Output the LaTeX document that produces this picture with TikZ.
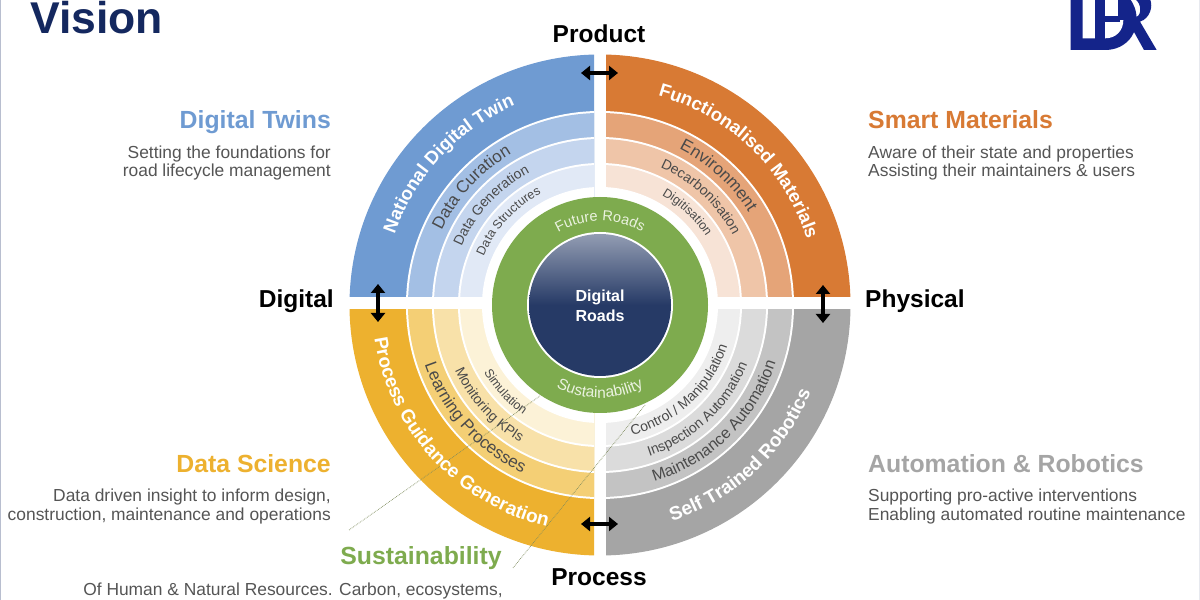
\documentclass[tikz,border=0pt]{standalone}
\usepackage{fontspec}
\setmainfont{Liberation Sans}
\usetikzlibrary{decorations.text,arrows.meta}
\definecolor{bA}{HTML}{6F9BD2}\definecolor{bB}{HTML}{A3BFE4}\definecolor{bC}{HTML}{C4D5EE}\definecolor{bD}{HTML}{E1E9F6}
\definecolor{oA}{HTML}{D87A34}\definecolor{oB}{HTML}{E5A478}\definecolor{oC}{HTML}{EFC5A8}\definecolor{oD}{HTML}{F7E3D6}
\definecolor{yA}{HTML}{EDB12F}\definecolor{yB}{HTML}{F4CF75}\definecolor{yC}{HTML}{F8E1A9}\definecolor{yD}{HTML}{FCF2D7}
\definecolor{gA}{HTML}{A5A5A5}\definecolor{gB}{HTML}{C3C3C3}\definecolor{gC}{HTML}{DBDBDB}\definecolor{gD}{HTML}{EEEEEE}
\definecolor{leaf}{HTML}{7EAB4E}\definecolor{navy}{HTML}{263A66}\definecolor{titleblue}{HTML}{14285F}
\definecolor{bodygrey}{HTML}{555555}\definecolor{ringtext}{HTML}{4A4A4A}\definecolor{logoblue}{HTML}{14248A}
\definecolor{paleleaf}{HTML}{EAF2DF}\definecolor{guidegreen}{HTML}{7F8C5E}
\newcommand{\fsz}[1]{\fontsize{#1}{#1}\selectfont}
\newcommand{\quadring}[6]{%
  \begin{scope}
    \clip #1 rectangle #2;
    \fill[#3] (ctr) circle[radius=250.5pt];
    \fill[white] (ctr) circle[radius=194pt];
    \fill[#4] (ctr) circle[radius=192pt];
    \fill[white] (ctr) circle[radius=168pt];
    \fill[#5] (ctr) circle[radius=166pt];
    \fill[white] (ctr) circle[radius=142pt];
    \fill[#6] (ctr) circle[radius=140pt];
    \fill[white] (ctr) circle[radius=118pt];
  \end{scope}}
\newcommand{\cwtext}[5]{%
  \path[decorate,decoration={text along path,text align=center,
    text={|\fsz{#3}\color{#4}|#5}}]
    (ctr) ++(#2+75:#1 pt) arc[start angle=#2+75,end angle=#2-75,radius=#1 pt];}
\newcommand{\ccwtext}[5]{%
  \path[decorate,decoration={text along path,text align=center,
    text={|\fsz{#3}\color{#4}|#5}}]
    (ctr) ++(#2-75:#1 pt) arc[start angle=#2-75,end angle=#2+75,radius=#1 pt];}
\newcommand{\cwbold}[5]{%
  \path[decorate,decoration={text along path,text align=center,
    text={|\bfseries\fsz{#3}\color{#4}|#5}}]
    (ctr) ++(#2+75:#1 pt) arc[start angle=#2+75,end angle=#2-75,radius=#1 pt];}
\newcommand{\ccwbold}[5]{%
  \path[decorate,decoration={text along path,text align=center,
    text={|\bfseries\fsz{#3}\color{#4}|#5}}]
    (ctr) ++(#2-75:#1 pt) arc[start angle=#2-75,end angle=#2+75,radius=#1 pt];}
\tikzset{
  head/.style={font=\bfseries\fsz{24.8}},
  axislabel/.style={font=\bfseries\fsz{24.5},text=black,inner sep=0pt},
  body/.style={font=\fsz{17.4},text=bodygrey,inner sep=0pt},
  twoway/.style={{Triangle[length=9pt,width=14pt]}-{Triangle[length=9pt,width=14pt]},line width=3.5pt,black},
  guide/.style={densely dotted,line width=.7pt,color=guidegreen},
}
\begin{document}
\begin{tikzpicture}[x=1pt,y=1pt]
\useasboundingbox (0,0) rectangle (1200,600);
\clip (0,0) rectangle (1200,600);
\fill[white] (0,0) rectangle (1200,600);
\draw[color=titleblue!30!white,line width=1.5pt] (0.5,0) -- (0.5,600);
\draw[color=titleblue!10!white,line width=1pt] (1199,0) -- (1199,600);
\coordinate (ctr) at (600,295);
\quadring{(340,303)}{(594,600)}{bA}{bB}{bC}{bD}
\quadring{(606,303)}{(860,600)}{oA}{oB}{oC}{oD}
\quadring{(340,290)}{(594,0)}{yA}{yB}{yC}{yD}
\quadring{(606,290)}{(860,0)}{gA}{gB}{gC}{gD}
\fill[leaf] (ctr) circle[radius=108pt];
\fill[white] (ctr) circle[radius=73pt];
\shade[top color=navy!50!white,bottom color=navy,middle color=navy,shading angle=0] (ctr) circle[radius=71pt];
\coordinate (gaS) at (349,70); \coordinate (gaE) at (540,204);
\coordinate (gbS) at (513,32); \coordinate (gbE) at (645,195);
\draw[guide] (gaS) -- (gaE);
\draw[guide] (gbS) -- (gbE);
\cwbold{217}{137}{18.5}{white}{National Digital Twin}
\cwtext{175}{137.5}{17}{ringtext}{Data Curation}
\cwtext{150}{137.5}{14}{ringtext}{Data Generation}
\cwtext{126}{137.5}{12.5}{ringtext}{Data Structures}
\cwbold{217}{46}{18.5}{white}{Functionalised Materials}
\cwtext{175}{47.5}{17}{ringtext}{Environment}
\cwtext{150}{47}{14}{ringtext}{Decarbonisation}
\cwtext{126}{46.7}{12.5}{ringtext}{Digitisation}
\ccwbold{228}{222.5}{19}{white}{Process Guidance Generation}
\ccwtext{185}{222}{17}{ringtext}{Learning Processes}
\ccwtext{159}{222}{14}{ringtext}{Monitoring KPIs}
\ccwtext{134}{222.5}{12.5}{ringtext}{Simulation}
\ccwbold{228}{-47}{19}{white}{Self Trained Robotics}
\ccwtext{185}{-45.5}{16}{ringtext}{Maintenance Automation}
\ccwtext{159}{-47}{14}{ringtext}{Inspection Automation}
\ccwtext{134}{-47}{14}{ringtext}{Control / Manipulation}
\cwtext{84}{90}{14.5}{paleleaf}{Future Roads}
\ccwtext{93}{270}{15.5}{paleleaf}{Sustainability}
\node[font=\bfseries\fsz{16},text=white,align=center,inner sep=0pt] (core) at (600,294) {Digital\\[4pt]Roads};
\coordinate (tl) at (581,527); \coordinate (tr) at (618,527);
\coordinate (bl) at (581,76); \coordinate (br) at (618,76);
\coordinate (lt) at (378,316); \coordinate (lb) at (378,278);
\coordinate (rt) at (823,315); \coordinate (rb) at (823,277);
\draw[twoway] (tl) -- (tr);
\draw[twoway] (bl) -- (br);
\draw[twoway] (lt) -- (lb);
\draw[twoway] (rt) -- (rb);
\node[axislabel,anchor=base] (product) at (599,557) {Product};
\node[axislabel,anchor=base] (process) at (599,14) {Process};
\node[axislabel,anchor=base east] (digital) at (334,292) {Digital};
\node[axislabel,anchor=base west] (physical) at (865,292) {Physical};
\node[font=\bfseries\fsz{44.5},text=titleblue,anchor=base west,inner sep=0pt] (vision) at (30,566.5) {Vision};
\node[head,text=bA,anchor=base east,inner sep=0pt] (twins) at (331,471) {Digital Twins};
\node[head,text=oA,anchor=base west,inner sep=0pt] (smart) at (868,471) {Smart Materials};
\node[head,text=yA,anchor=base east,inner sep=0pt] (science) at (331,127) {Data Science};
\node[head,text=gA,anchor=base west,inner sep=0pt] (robot) at (868,127) {Automation \& Robotics};
\node[head,text=leaf,anchor=base,inner sep=0pt] (sust) at (421,35) {Sustainability};
\node[body,anchor=base east] (t1) at (331,441) {Setting the foundations for};
\node[body,anchor=base east] (t2) at (331,423) {road lifecycle management};
\node[body,anchor=base west] (s1) at (868,441) {Aware of their state and properties};
\node[body,anchor=base west] (s2) at (868,423) {Assisting their maintainers \& users};
\node[body,anchor=base east] (d1) at (331,98) {Data driven insight to inform design,};
\node[body,anchor=base east] (d2) at (331,79) {construction, maintenance and operations};
\node[body,anchor=base west] (a1) at (868,98) {Supporting pro-active interventions};
\node[body,anchor=base west] (a2) at (868,79) {Enabling automated routine maintenance};
\node[body,anchor=base] (h1) at (293,5) {Of Human \& Natural Resources. Carbon, ecosystems,};
\begin{scope}[shift={(1040,600)},x=.33333pt,y=-.33333pt]
  \fill[logoblue] (92,-3) -- (92,150) -- (195,150) .. controls (255,150) and (290,105) .. (290,60) .. controls (290,30) and (280,10) .. (270,-3) -- cycle;
  \fill[white] (128,-3) -- (128,115) -- (195,115) .. controls (230,115) and (250,90) .. (250,60) .. controls (250,30) and (240,10) .. (232,-3) -- cycle;
  \fill[logoblue] (165,-3) rectangle (195,118);
  \fill[logoblue] (195,48) rectangle (240,66);
  \fill[logoblue] (235,-3) rectangle (270,60);
  \fill[logoblue] (285,-3) -- (330,-3) .. controls (340,20) and (330,55) .. (300,65) -- (350,150) -- (312,150) -- (272,78) -- (290,50) .. controls (305,45) and (305,10) .. (285,-3) -- cycle;
\end{scope}
\end{tikzpicture}
\end{document}
